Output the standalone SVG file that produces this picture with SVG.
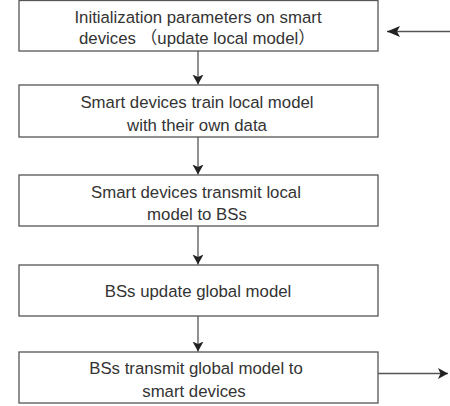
<svg xmlns="http://www.w3.org/2000/svg" width="450" height="406" viewBox="0 0 450 406">
<style>
.box{fill:#fff;stroke:#555;stroke-width:1.3}
.t{font-family:"Liberation Sans","Noto Sans CJK SC",sans-serif;font-size:16.8px;fill:#333;text-anchor:middle}
.c{stroke:#555;stroke-width:1.3;fill:none}
</style>
<defs>
<marker id="ah" viewBox="0 0 10 12" refX="10" refY="6" markerWidth="10" markerHeight="12" markerUnits="userSpaceOnUse" orient="auto">
<path d="M0,0.5 L10,6 L0,11.5 L2.5,6 z" fill="#222"/>
</marker>
<marker id="ah2" viewBox="0 0 13 11" refX="13" refY="5.5" markerWidth="13" markerHeight="11" markerUnits="userSpaceOnUse" orient="auto">
<path d="M0,0 L13,5.5 L0,11 L3,5.5 z" fill="#222"/>
</marker>
</defs>
<g id="n1">
<rect class="box" x="19" y="0.5" width="359" height="50.5"/>
<text class="t" x="198" y="22.5">Initialization parameters on smart</text>
<text class="t" x="197" y="43.5">devices （update local model）</text>
</g>
<g id="n2">
<rect class="box" x="19" y="85" width="359" height="52"/>
<text class="t" x="197" y="108">Smart devices train local model</text>
<text class="t" x="197" y="131">with their own data</text>
</g>
<g id="n3">
<rect class="box" x="19" y="175" width="359" height="51"/>
<text class="t" x="196" y="197.5">Smart devices transmit local</text>
<text class="t" x="197" y="220">model to BSs</text>
</g>
<g id="n4">
<rect class="box" x="19" y="265" width="359" height="51"/>
<text class="t" x="198" y="297">BSs update global model</text>
</g>
<g id="n5">
<rect class="box" x="19" y="352" width="359" height="51"/>
<text class="t" x="196" y="374">BSs transmit global model to</text>
<text class="t" x="194" y="397">smart devices</text>
</g>
<g id="connectors">
<line class="c" x1="198" y1="51" x2="198" y2="84.5" marker-end="url(#ah)"/>
<line class="c" x1="198" y1="137" x2="198" y2="174.5" marker-end="url(#ah)"/>
<line class="c" x1="198" y1="226" x2="198" y2="264.5" marker-end="url(#ah)"/>
<line class="c" x1="198" y1="316" x2="198" y2="351.5" marker-end="url(#ah)"/>
<line class="c" x1="450" y1="31.5" x2="387" y2="31.5" marker-end="url(#ah2)"/>
<line class="c" x1="378" y1="373.5" x2="448" y2="373.5" marker-end="url(#ah)"/>
</g>
</svg>
